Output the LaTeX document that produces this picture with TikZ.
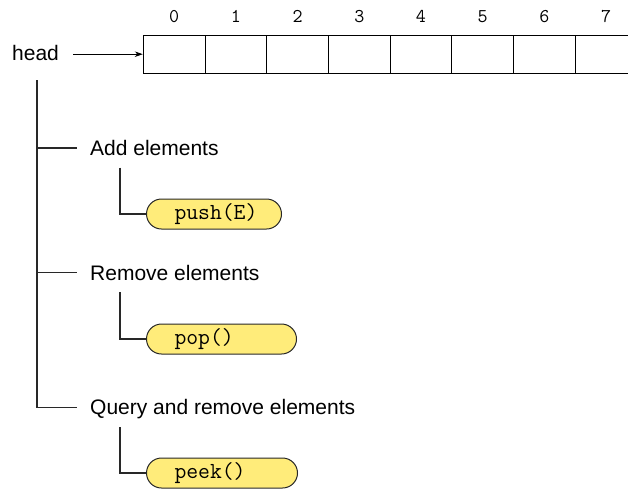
\documentclass[tikz,border=0pt]{standalone}
\usepackage{fontspec}
\setmainfont{Liberation Sans}
\usetikzlibrary{arrows.meta}
\definecolor{pillfill}{RGB}{255,236,122}
\definecolor{linegray}{RGB}{40,40,40}

\begin{document}
\begin{tikzpicture}[
    x=1pt, y=-1pt,
    cell/.style={draw, line width=1.1pt, minimum width=61.7pt, minimum height=38.3pt, inner sep=0pt},
    idx/.style={anchor=base, inner sep=0pt, font=\fontsize{19.5}{22}\selectfont\ttfamily},
    group/.style={anchor=base west, inner sep=0pt, font=\fontsize{21}{25}\selectfont},
    method/.style={draw=linegray, line width=1pt, fill=pillfill, rounded corners=15pt,
        minimum height=30pt, inner xsep=0pt, inner ysep=0pt, text width=#1, align=left,
        font=\fontsize{23}{26}\selectfont\ttfamily},
    branch/.style={draw=linegray, line width=1.1pt}
]
\clip (0,0) rectangle (628,491);

% Array of slots
\foreach \i in {0,...,7} {
    \node[cell] (c\i) at ({174.2+61.7*\i},54.2) {};
    \node[idx] (i\i) at ([yshift=12pt]c\i.north) {\i};
}

% Head pointer
\node[group] (head) at (12,60) {head};
\coordinate (ptr) at (73,54.2);
\draw[-{Stealth[length=8pt,width=5.5pt]}, line width=1pt] (ptr) -- (c0.west);

% Operation groups
\node[group] (add) at (90,155.5) {Add elements};
\node[group] (remove) at (90,280) {Remove elements};
\node[group] (query) at (90,414) {Query and remove elements};

% Methods
\node[method=135pt, anchor=west] (push) at (146,214) {\hspace*{28pt}push(E)};
\node[method=150pt, anchor=west] (pop) at (146,339) {\hspace*{28pt}pop()};
\node[method=151pt, anchor=west] (peek) at (146,473) {\hspace*{28pt}peek()};

% Tree lines
\coordinate (trunk) at (37,80);
\draw[branch] (trunk) |- ([xshift=-13pt,yshift=6.5pt]query.base west);
\draw[branch] ([yshift=7.5pt]trunk |- add.base) -- ([xshift=-13pt,yshift=7.5pt]add.base west);
\draw[branch] ([yshift=7.5pt]trunk |- remove.base) -- ([xshift=-13pt,yshift=7.5pt]remove.base west);

\draw[branch] ([xshift=30pt,yshift=-12pt]add.base west) |- (push.west);
\draw[branch] ([xshift=30pt,yshift=-12pt]remove.base west) |- (pop.west);
\draw[branch] ([xshift=30pt,yshift=-13pt]query.base west) |- (peek.west);

\end{tikzpicture}
\end{document}
